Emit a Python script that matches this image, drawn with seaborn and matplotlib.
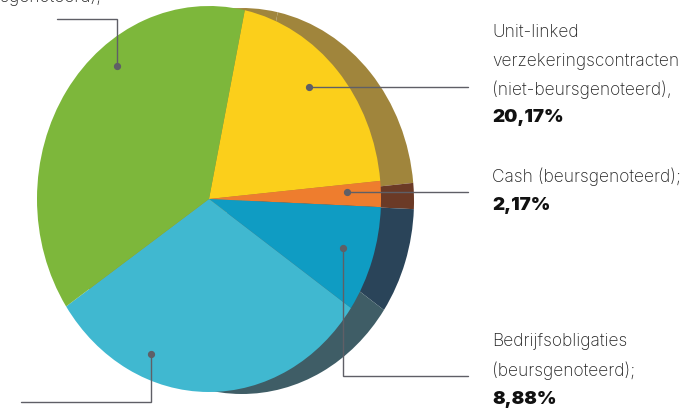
import seaborn as sns
import matplotlib.pyplot as plt

# shares read clockwise from the top, first three are printed in the chart
shares = [20.17, 2.17, 8.88, 31.05, 37.73]
front_colors = ["#FBCF1B", "#EE7D2E", "#0F9CC3", "#40B8D0", "#7DB73B"]
shadow_colors = ["#A0853C", "#6B3A26", "#2A4459", "#3F5D66", "#A0853C"]

# label lines: text, x, y, bold
labels = [
    ("(beursgenoteerd),", 101, -3, False),
    ("Unit-linked", 492, 32, False),
    ("verzekeringscontracten", 492, 61, False),
    ("(niet-beursgenoteerd),", 492, 90, False),
    ("20,17%", 492, 118, True),
    ("Cash (beursgenoteerd);", 492, 177, False),
    ("2,17%", 492, 206, True),
    ("Bedrijfsobligaties", 492, 342, False),
    ("(beursgenoteerd);", 492, 371, False),
    ("8,88%", 492, 400, True),
]

# leader lines, dot first
leaders = [
    ([117, 117, 57], [66, 19, 19]),
    ([309, 468], [87, 87]),
    ([347, 468], [192, 192]),
    ([343, 343, 468], [248, 376, 376]),
    ([151, 151, 21], [354, 402, 402]),
]

W, H = 698, 409
CX, CY, RX, RY = 209, 199, 172, 193
SHIFT_X, SHIFT_Y = 33, 2

sns.set_theme(style="white")
plt.rcParams["font.family"] = ["Inter", "DejaVu Sans"]

fig = plt.figure(figsize=(W / 100, H / 100), dpi=100)
ax = fig.add_axes([0, 0, 1, 1])

# shadow pie first, the front pie covers most of it
ax.pie(shares, colors=sns.color_palette(shadow_colors), startangle=78, counterclock=False,
       center=(SHIFT_X / RX, -SHIFT_Y / RY), wedgeprops={"linewidth": 0})
ax.pie(shares, colors=sns.color_palette(front_colors), startangle=78, counterclock=False,
       wedgeprops={"linewidth": 0})
ax.set_aspect("auto")
ax.set_xlim(-CX / RX, (W - CX) / RX)
ax.set_ylim((CY - H) / RY, CY / RY)

over = fig.add_axes([0, 0, 1, 1])
over.set_xlim(0, W)
over.set_ylim(H, 0)
over.axis("off")

for xs, ys in leaders:
    over.plot(xs, ys, color="#5F5F66", lw=1.0, solid_joinstyle="miter")
    over.plot(xs[0], ys[0], "o", color="#5F5F66", ms=4.2)

for text, x, y, bold in labels:
    over.text(x, y, text, va="center", ha="right" if x < CX else "left", color="#111111" if bold else "#222222",
              fontsize=13.5 if bold else 12.5, fontweight=900 if bold else "light", clip_on=False)

fig.savefig("out.png", dpi=100)
